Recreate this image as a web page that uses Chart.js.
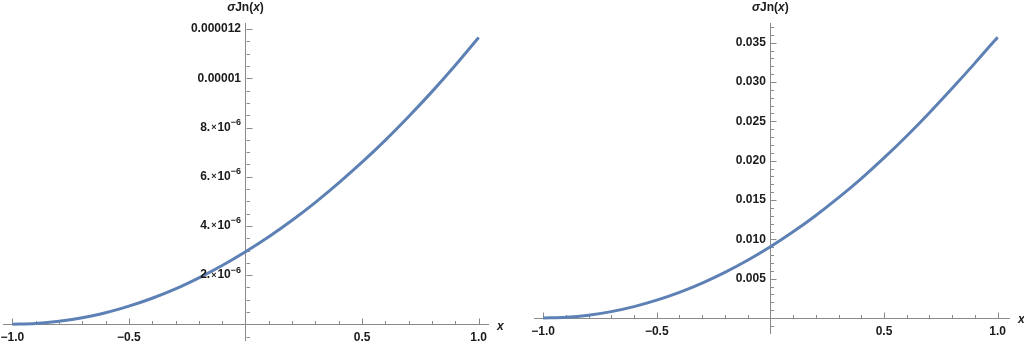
<!DOCTYPE html>
<html>
<head>
<meta charset="utf-8">
<script src="https://cdn.jsdelivr.net/npm/chart.js@4/dist/chart.umd.min.js"></script>
<style>
  html, body { margin: 0; padding: 0; background: #ffffff; }
  body { width: 1024px; height: 343px; position: relative; overflow: hidden; }
  canvas { position: absolute; top: 0; }
  #c1 { left: 0; }
  #c2 { left: 512px; }
</style>
</head>
<body>
<canvas id="c1" width="512" height="343"></canvas>
<canvas id="c2" width="512" height="343"></canvas>
<script>
// ---- data ----
const xValues = [-1.0, -0.9, -0.8, -0.7, -0.6, -0.5, -0.4, -0.3, -0.2, -0.1, 0.0,
                 0.1, 0.2, 0.3, 0.4, 0.5, 0.6, 0.7, 0.8, 0.9, 1.0];
const leftValues = [0.0, 0.03e-6, 0.12e-6, 0.27e-6, 0.47e-6, 0.74e-6, 1.06e-6, 1.44e-6, 1.89e-6, 2.39e-6, 2.95e-6,
                    3.56e-6, 4.23e-6, 4.96e-6, 5.75e-6, 6.59e-6, 7.49e-6, 8.45e-6, 9.46e-6, 10.53e-6, 11.66e-6];
const rightValues = [0.0, 0.00009, 0.00036, 0.00082, 0.00145, 0.00227, 0.00326, 0.00444, 0.0058, 0.00734, 0.00906,
                     0.01096, 0.01304, 0.0153, 0.01773, 0.02035, 0.02314, 0.0261, 0.0292, 0.0324, 0.0357];
const xTickValues = [-1.0, -0.5, 0.5, 1.0];
const xTickLabels = ['\u22121.0', '\u22120.5', '0.5', '1.0'];
const leftYTickValues = [2e-6, 4e-6, 6e-6, 8e-6, 10e-6, 12e-6];
// [mantissa text, exponent text or null]
const leftYTickLabels = [['2.', '\u22126'], ['4.', '\u22126'], ['6.', '\u22126'], ['8.', '\u22126'], ['0.00001', null], ['0.000012', null]];
const rightYTickValues = [0.005, 0.010, 0.015, 0.020, 0.025, 0.030, 0.035];
const rightYTickLabels = [['0.005', null], ['0.010', null], ['0.015', null], ['0.020', null], ['0.025', null], ['0.030', null], ['0.035', null]];

const LINE_COLOR = '#5E81B5';
const AXIS_COLOR = '#8a8a8a';
const TEXT_COLOR = '#1a1a1a';
const FONT = '"Liberation Sans", Arial, sans-serif';

function axisPlugin(xMinorStep, xMajorStep, yMinorStep, yMajorStep, yTickVals, yTickLabs) {
  return {
    id: 'mmaAxes',
    beforeDatasetsDraw(chart) {
      const ctx = chart.ctx;
      const xs = chart.scales.x, ys = chart.scales.y;
      const x0 = Math.round(xs.getPixelForValue(0)) + 0.5;
      const y0 = Math.round(ys.getPixelForValue(0)) + 0.5;
      ctx.save();
      ctx.strokeStyle = AXIS_COLOR;
      ctx.lineWidth = 1;
      ctx.beginPath();
      const nx0 = Math.ceil(xs.min / xMinorStep - 1e-9), nx1 = Math.floor(xs.max / xMinorStep + 1e-9);
      const ratioX = Math.round(xMajorStep / xMinorStep);
      for (let i = nx0; i <= nx1; i++) {
        if (i === 0) continue;
        const px = Math.round(xs.getPixelForValue(i * xMinorStep)) + 0.5;
        const len = (i % ratioX === 0) ? 6 : 3.5;
        ctx.moveTo(px, y0);
        ctx.lineTo(px, y0 - len);
      }
      const ny0 = Math.ceil(ys.min / yMinorStep - 1e-9), ny1 = Math.floor(ys.max / yMinorStep + 1e-9);
      const ratioY = Math.round(yMajorStep / yMinorStep);
      for (let i = ny0; i <= ny1; i++) {
        if (i === 0) continue;
        const py = Math.round(ys.getPixelForValue(i * yMinorStep)) + 0.5;
        const len = (i % ratioY === 0) ? 6 : 3.5;
        ctx.moveTo(x0, py);
        ctx.lineTo(x0 + len, py);
      }
      ctx.stroke();
      ctx.restore();
    },
    afterDraw(chart) {
      const ctx = chart.ctx;
      const xs = chart.scales.x;
      const ys = chart.scales.y;
      const cx = xs.getPixelForValue(0);
      const cy = ys.getPixelForValue(0);
      ctx.save();
      ctx.fillStyle = TEXT_COLOR;
      ctx.textBaseline = 'middle';
      // x tick labels
      ctx.font = 'bold 12px ' + FONT;
      ctx.textAlign = 'center';
      xTickValues.forEach((v, i) => ctx.fillText(xTickLabels[i], xs.getPixelForValue(v), cy + 13.5));
      // y tick labels
      yTickVals.forEach((v, i) => {
        const [m, e] = yTickLabs[i];
        const py = ys.getPixelForValue(v);
        const right = cx - 4.5;
        ctx.textAlign = 'left';
        if (!e) {
          ctx.font = 'bold 12px ' + FONT;
          const w = ctx.measureText(m).width;
          ctx.fillText(m, right - w, py);
        } else {
          const segs = [[m, 'bold 12px', 0, 1], ['\u00d7', 'bold 9px', 0, 1], ['10', 'bold 12px', 0, 0], [e, 'bold 9px', -5, 0]];
          let total = 0;
          for (const s of segs) { ctx.font = s[1] + ' ' + FONT; total += ctx.measureText(s[0]).width + s[3]; }
          let px = right - total;
          for (const s of segs) {
            ctx.font = s[1] + ' ' + FONT;
            ctx.fillText(s[0], px, py + s[2]);
            px += ctx.measureText(s[0]).width + s[3];
          }
        }
      });
      // axis title  σJn(x)
      const parts = [['\u03c3', 'italic bold'], ['Jn(', 'bold'], ['x', 'italic bold'], [')', 'bold']];
      let total = 0;
      for (const [t, s] of parts) { ctx.font = s + ' 12px ' + FONT; total += ctx.measureText(t).width; }
      let px = cx - total / 2;
      ctx.textAlign = 'left';
      for (const [t, s] of parts) {
        ctx.font = s + ' 12px ' + FONT;
        ctx.fillText(t, px, 8);
        px += ctx.measureText(t).width;
      }
      // x label
      ctx.font = 'italic bold 12px ' + FONT;
      ctx.fillText('x', chart.chartArea.right + 9, cy + 2);
      ctx.restore();
    }
  };
}

function makeChart(id, values, yMin, yMax, xMin, xMax, yTickVals, yTickLabs, padding, yMinor, yMajor) {
  return new Chart(document.getElementById(id), {
    type: 'line',
    data: {
      datasets: [{
        data: xValues.map((x, i) => ({ x: x, y: values[i] })),
        borderColor: LINE_COLOR,
        borderWidth: 3,
        pointRadius: 0,
        fill: false,
        cubicInterpolationMode: 'monotone'
      }]
    },
    options: {
      responsive: false,
      animation: false,
      layout: { padding: padding },
      plugins: { legend: { display: false }, title: { display: false }, tooltip: { enabled: false } },
      scales: {
        x: {
          type: 'linear',
          min: xMin, max: xMax,
          position: { y: 0 },
          grid: { display: false, drawTicks: false },
          border: { display: true, color: AXIS_COLOR, width: 1 },
          afterBuildTicks: (s) => { s.ticks = xTickValues.map(v => ({ value: v })); },
          ticks: { display: false }
        },
        y: {
          type: 'linear',
          min: yMin, max: yMax,
          position: { x: 0 },
          grid: { display: false, drawTicks: false },
          border: { display: true, color: AXIS_COLOR, width: 1 },
          afterBuildTicks: (s) => { s.ticks = yTickVals.map(v => ({ value: v })); },
          ticks: { display: false }
        }
      }
    },
    plugins: [axisPlugin(0.1, 0.5, yMinor, yMajor, yTickVals, yTickLabs)]
  });
}

makeChart('c1', leftValues, -0.638e-6, 12.25e-6, -1.04, 1.04,
  leftYTickValues, leftYTickLabels, { left: 3, right: 24, top: 23, bottom: 3 }, 0.5e-6, 2e-6);
makeChart('c2', rightValues, -0.0019, 0.0375, -1.04, 1.05,
  rightYTickValues, rightYTickLabels, { left: 22, right: 15, top: 23, bottom: 10 }, 0.001, 0.005);
</script>
</body>
</html>
